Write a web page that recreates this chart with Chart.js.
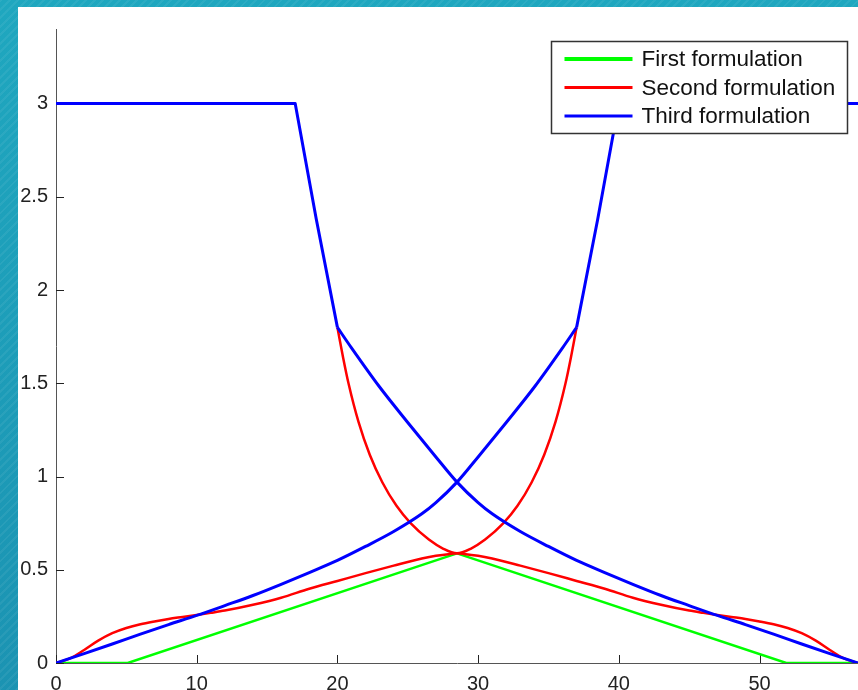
<!DOCTYPE html>
<html>
<head>
<meta charset="utf-8">
<title>Formulations</title>
<script src="https://cdn.jsdelivr.net/npm/chart.js@4.4.1/dist/chart.umd.min.js"></script>
<style>
  html, body { margin: 0; padding: 0; }
  body {
    width: 858px; height: 690px; overflow: hidden; position: relative;
    background:
      repeating-linear-gradient(135deg, rgba(255,255,255,0.06) 0 2px, rgba(0,0,0,0) 2px 6px),
      linear-gradient(180deg, #1fa7bf 0%, #1b93b2 100%);
  }
  #panel { position: absolute; left: 18px; top: 7px; width: 840px; height: 683px; background: #fff; }
</style>
</head>
<body>
<div id="panel"><canvas id="plot" width="840" height="683"></canvas></div>
<script>
const seriesNames = ['First formulation', 'Second formulation', 'Third formulation'];
const xTicks = [0, 10, 20, 30, 40, 50];
const yTicks = [0, 0.5, 1, 1.5, 2, 2.5, 3];

// first formulation (green)
const firstX = [0, 5.1, 28.5, 51.9, 57];
const firstY = [0, 0, 0.588, 0, 0];

// second formulation (red) - lower wave
const secondX = [0, 1, 2, 3, 4, 5, 6, 7, 8, 9, 10, 11, 12, 14, 16, 18, 20, 22, 24, 26,
  27, 28, 28.5, 29, 30, 31, 33, 35, 37, 39, 41, 43, 45,
  46, 47, 48, 49, 50, 51, 52, 53, 54, 55, 56, 57];
const secondY = [0, 0.025, 0.07, 0.12, 0.16, 0.188, 0.208, 0.223, 0.236, 0.247, 0.258, 0.269, 0.281,
  0.312, 0.35, 0.398, 0.44, 0.482, 0.522, 0.56,
  0.575, 0.585, 0.588, 0.585, 0.575, 0.56,
  0.522, 0.482, 0.44, 0.398, 0.35, 0.312, 0.281,
  0.269, 0.258, 0.247, 0.236, 0.223, 0.208, 0.188, 0.16, 0.12, 0.07, 0.025, 0];

// second formulation (red) - U branch
const secondUX = [20, 20.4, 20.8, 21.5, 22.3, 23.2, 24.2, 25.2, 26.5, 27.5, 28.5,
  29.5, 30.5, 31.8, 32.8, 33.8, 34.7, 35.5, 36.2, 36.6, 37];
const secondUY = [1.8, 1.64, 1.496, 1.293, 1.117, 0.968, 0.843, 0.75, 0.662, 0.614, 0.588,
  0.614, 0.662, 0.75, 0.843, 0.968, 1.117, 1.293, 1.496, 1.64, 1.8];

// third formulation (blue) - flat at 3 then steep drop
const thirdTopX = [0, 17, 18.5, 20];
const thirdTopY = [3, 3, 2.38, 1.8];
// third formulation (blue) - falling curve
const thirdX = [20, 21, 23, 25, 27, 28.5, 30, 31,
  33, 35, 37, 39, 41, 43, 45, 47, 49, 51, 53, 55, 57];
const thirdY = [1.8, 1.69, 1.48, 1.29, 1.105, 0.97, 0.86, 0.8,
  0.705, 0.625, 0.55, 0.485, 0.422, 0.362, 0.308, 0.255, 0.206, 0.155, 0.102, 0.05, 0];

// third formulation (blue) - rising curve
const thirdRX = [0, 2, 4, 6, 8, 10, 12, 14, 16, 18, 20, 22, 24, 26,
  27, 28.5, 30, 32, 34, 36, 37];
const thirdRY = [0, 0.05, 0.102, 0.155, 0.206, 0.255, 0.308, 0.362, 0.422, 0.485, 0.55, 0.625, 0.705, 0.8,
  0.86, 0.97, 1.105, 1.29, 1.48, 1.69, 1.8];
// third formulation (blue) - steep rise then flat at 3
const thirdTopRX = [37, 38.5, 40, 57];
const thirdTopRY = [1.8, 2.38, 3, 3];

const GREEN = '#00ff00', RED = '#ff0000', BLUE = '#0000ff';
const FONT = '"Liberation Sans", Arial, Helvetica, sans-serif';

function pts(xs, ys) {
    return xs.map((x, i) => ({ x: x, y: ys[i] }));
}

function line(label, xs, ys, color, width, order, smooth) {
    return {
        label: label,
        data: pts(xs, ys),
        borderColor: color,
        backgroundColor: color,
        borderWidth: width,
        showLine: true,
        pointRadius: 0,
        tension: smooth ? 0.4 : 0,
        cubicInterpolationMode: smooth ? 'monotone' : 'default',
        borderJoinStyle: 'round',
        order: order
    };
}

// ticks pointing into the plot, like matlab
const inwardTicks = {
    id: 'inwardTicks',
    beforeDatasetsDraw(chart) {
        const { ctx, chartArea, scales } = chart;
        ctx.save();
        ctx.strokeStyle = '#222';
        ctx.lineWidth = 1;
        ctx.beginPath();
        xTicks.forEach(v => {
            const px = Math.round(scales.x.getPixelForValue(v)) + 0.5;
            ctx.moveTo(px, chartArea.bottom);
            ctx.lineTo(px, chartArea.bottom - 8);
        });
        yTicks.forEach(v => {
            const py = Math.round(scales.y.getPixelForValue(v)) + 0.5;
            ctx.moveTo(chartArea.left, py);
            ctx.lineTo(chartArea.left + 8, py);
        });
        ctx.stroke();
        ctx.restore();
    }
};

// boxed legend in the top right corner
const boxLegend = {
    id: 'boxLegend',
    afterDatasetsDraw(chart) {
        const { ctx, chartArea } = chart;
        const colors = [GREEN, RED, BLUE];
        const widths = [4, 3, 3];
        const w = 296, h = 92;
        const left = chartArea.right - 306.5, top = chartArea.top + 12.5;
        ctx.save();
        ctx.fillStyle = '#fff';
        ctx.fillRect(left, top, w, h);
        ctx.strokeStyle = '#333';
        ctx.lineWidth = 1.5;
        ctx.strokeRect(left, top, w, h);
        ctx.font = '22.5px ' + FONT;
        ctx.textBaseline = 'middle';
        ctx.fillStyle = '#111';
        seriesNames.forEach((name, i) => {
            const yy = top + 17.5 + i * 28.5;
            ctx.beginPath();
            ctx.strokeStyle = colors[i];
            ctx.lineWidth = widths[i];
            ctx.moveTo(left + 13, yy);
            ctx.lineTo(left + 81, yy);
            ctx.stroke();
            ctx.fillText(name, left + 90, yy + 1);
        });
        ctx.restore();
    }
};

new Chart(document.getElementById('plot'), {
    type: 'scatter',
    data: {
        datasets: [
            line(seriesNames[2], thirdTopX, thirdTopY, BLUE, 3, 1, false),
            line(seriesNames[2], thirdX, thirdY, BLUE, 3, 1, true),
            line(seriesNames[2], thirdRX, thirdRY, BLUE, 3, 1, true),
            line(seriesNames[2], thirdTopRX, thirdTopRY, BLUE, 3, 1, false),
            line(seriesNames[1], secondUX, secondUY, RED, 2.5, 2, true),
            line(seriesNames[1], secondX, secondY, RED, 2.5, 2, true),
            line(seriesNames[0], firstX, firstY, GREEN, 2.5, 3, false)
        ]
    },
    options: {
        responsive: false,
        animation: false,
        devicePixelRatio: 1,
        layout: { padding: { top: 22, left: 0, right: 0, bottom: 0 } },
        plugins: {
            legend: { display: false },
            tooltip: { enabled: false }
        },
        scales: {
            x: {
                type: 'linear',
                min: 0,
                max: 57,
                afterBuildTicks: s => { s.ticks = xTicks.map(v => ({ value: v })); },
                afterFit: s => { s.height = 27; },
                ticks: { color: '#222', padding: 9, font: { family: FONT, size: 20 }, callback: v => String(v) },
                grid: { display: false, drawTicks: false },
                border: { display: true, color: '#555', width: 1 }
            },
            y: {
                min: 0,
                max: 3.4,
                afterBuildTicks: s => { s.ticks = yTicks.map(v => ({ value: v })); },
                afterFit: s => { s.width = 38; },
                ticks: { color: '#222', padding: 8, font: { family: FONT, size: 20 }, callback: v => String(v) },
                grid: { display: false, drawTicks: false },
                border: { display: true, color: '#555', width: 1 }
            }
        }
    },
    plugins: [inwardTicks, boxLegend]
});
</script>
</body>
</html>
